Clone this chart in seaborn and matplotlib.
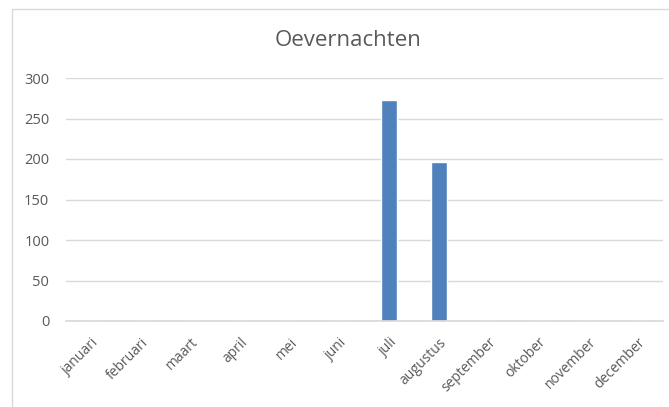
import matplotlib
matplotlib.use("Agg")
import matplotlib.pyplot as plt
import seaborn as sns
import pandas as pd
from matplotlib.patches import Rectangle

months = ["januari", "februari", "maart", "april", "mei", "juni", "juli",
          "augustus", "september", "oktober", "november", "december"]
values = [0, 0, 0, 0, 0, 0, 273, 196, 0, 0, 0, 0]
title = "Oevernachten"
yticks = [0, 50, 100, 150, 200, 250, 300]

sns.set_theme(style="white")
plt.rcParams['font.family'] = ['Open Sans', 'DejaVu Sans']

df = pd.DataFrame({"maand": months, "waarde": values})

W, H = 669, 407
fig = plt.figure(figsize=(W / 100, H / 100), dpi=100)
ax = fig.add_axes([66 / W, 1 - 321 / H, (663 - 66) / W, (321 - 78) / H])

sns.barplot(data=df, x="maand", y="waarde", color="#4F81BD", width=0.32,
            ax=ax, saturation=1)

ax.set_ylim(0, 300)
ax.set_yticks(yticks)
ax.set_xlim(-0.5, 11.5)
ax.yaxis.grid(True, color="#D9D9D9", linewidth=1)
ax.set_axisbelow(True)
for s in ["top", "right", "left"]:
    ax.spines[s].set_visible(False)
ax.spines["bottom"].set_color("#D9D9D9")
ax.set_xlabel("")
ax.set_ylabel("")
ax.tick_params(axis="y", length=0, pad=12, labelsize=10.5, labelcolor="#595959")
ax.tick_params(axis="x", length=0, pad=10, labelsize=10, labelcolor="#595959")
for lab in ax.get_xticklabels():
    lab.set_rotation(45)
    lab.set_ha("right")
    lab.set_rotation_mode("anchor")

fig.text(348 / W, 1 - 41 / H, title, ha="center", va="center",
         fontsize=16, color="#595959")

fig.patches.append(Rectangle((12 / W, -0.1), 1.0, 1 - 9 / H + 0.1,
                             transform=fig.transFigure, fill=False,
                             edgecolor="#D9D9D9", linewidth=1))

fig.savefig("out.png", dpi=100)
